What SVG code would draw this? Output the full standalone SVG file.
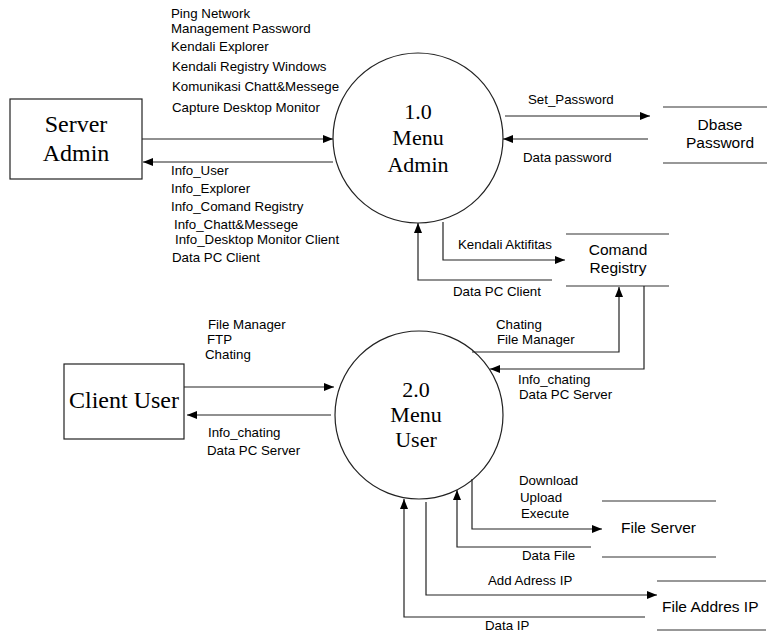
<svg xmlns="http://www.w3.org/2000/svg" width="767" height="633" viewBox="0 0 767 633">
<style>
.ln{fill:none;stroke:#222;stroke-width:1.2}
.st{fill:none;stroke:#333;stroke-width:1.2}
.lb{font-family:"Liberation Sans",Arial,sans-serif;font-size:13.3px;fill:#000}
.sl{font-family:"Liberation Sans",Arial,sans-serif;font-size:15.5px;fill:#000}
.tm{font-family:"Liberation Serif","Times New Roman",serif;font-size:24px;fill:#000}
.pr{font-family:"Liberation Serif","Times New Roman",serif;font-size:22px;fill:#000}
.bx{fill:#fff;stroke:#222;stroke-width:1.2}
</style>
<defs>
<marker id="ah" viewBox="0 0 10 8" refX="10" refY="4" markerWidth="10" markerHeight="8" markerUnits="userSpaceOnUse" orient="auto">
<path d="M0,0 L10,4 L0,8 Z" fill="#000"/>
</marker>
</defs>
<rect width="767" height="633" fill="#fff"/>

<g id="server-admin">
<rect class="bx" x="10" y="99" width="132" height="80"/>
<text class="tm" x="76" y="132" text-anchor="middle">Server</text>
<text class="tm" x="76" y="161" text-anchor="middle">Admin</text>
</g>

<g id="client-user">
<rect class="bx" x="64" y="364" width="120" height="75"/>
<text class="tm" x="124" y="408" text-anchor="middle">Client User</text>
</g>

<g id="menu-admin">
<circle class="bx" cx="418" cy="138" r="85"/>
<text class="pr" x="418" y="119" text-anchor="middle">1.0</text>
<text class="pr" x="418" y="145" text-anchor="middle">Menu</text>
<text class="pr" x="418" y="172" text-anchor="middle">Admin</text>
</g>

<g id="menu-user">
<circle class="bx" cx="419" cy="415" r="84"/>
<text class="pr" x="416" y="397" text-anchor="middle">2.0</text>
<text class="pr" x="416" y="422" text-anchor="middle">Menu</text>
<text class="pr" x="416" y="447" text-anchor="middle">User</text>
</g>

<g id="dbase-password">
<line class="st" x1="663" y1="107" x2="767" y2="107"/>
<line class="st" x1="663" y1="163" x2="767" y2="163"/>
<text class="sl" x="720" y="130" text-anchor="middle">Dbase</text>
<text class="sl" x="720" y="148" text-anchor="middle">Password</text>
</g>

<g id="comand-registry">
<line class="st" x1="566" y1="234" x2="669" y2="234"/>
<line class="st" x1="566" y1="286" x2="669" y2="286"/>
<text class="sl" x="618" y="255" text-anchor="middle">Comand</text>
<text class="sl" x="618" y="273" text-anchor="middle">Registry</text>
</g>

<g id="file-server">
<line class="st" x1="602" y1="501" x2="716" y2="501"/>
<line class="st" x1="602" y1="557" x2="716" y2="557"/>
<text class="sl" x="621" y="533">File Server</text>
</g>

<g id="file-addres-ip">
<line class="st" x1="657" y1="581" x2="766" y2="581"/>
<line class="st" x1="657" y1="630" x2="766" y2="630"/>
<text class="sl" x="662" y="612">File Addres IP</text>
</g>

<g id="connectors">
<line class="ln" x1="142" y1="139" x2="333" y2="139" marker-end="url(#ah)"/>
<line class="ln" x1="333" y1="162" x2="143" y2="162" marker-end="url(#ah)"/>
<line class="ln" x1="505" y1="116" x2="650" y2="116" marker-end="url(#ah)"/>
<line class="ln" x1="648" y1="139" x2="503" y2="139" marker-end="url(#ah)"/>
<polyline class="ln" points="443,222 443,260 565,260" marker-end="url(#ah)"/>
<polyline class="ln" points="552,280 418,280 418,223" marker-end="url(#ah)"/>
<polyline class="ln" points="472,352 619,352 619,287" marker-end="url(#ah)"/>
<polyline class="ln" points="644,286 644,369 490,369" marker-end="url(#ah)"/>
<line class="ln" x1="184" y1="387" x2="334" y2="387" marker-end="url(#ah)"/>
<line class="ln" x1="331" y1="415" x2="187" y2="415" marker-end="url(#ah)"/>
<polyline class="ln" points="472,479 472,529 602,529" marker-end="url(#ah)"/>
<polyline class="ln" points="591,547 457,547 457,490" marker-end="url(#ah)"/>
<polyline class="ln" points="426,502 426,595 657,595" marker-end="url(#ah)"/>
<polyline class="ln" points="645,617 404,617 404,499" marker-end="url(#ah)"/>
</g>

<g id="labels">
<text class="lb" x="171" y="18">Ping Network</text>
<text class="lb" x="171" y="33">Management Password</text>
<text class="lb" x="171" y="51">Kendali Explorer</text>
<text class="lb" x="172" y="71">Kendali Registry Windows</text>
<text class="lb" x="172" y="91">Komunikasi Chatt&amp;Messege</text>
<text class="lb" x="172" y="112">Capture Desktop Monitor</text>
<text class="lb" x="171" y="175">Info_User</text>
<text class="lb" x="171" y="193">Info_Explorer</text>
<text class="lb" x="171" y="211">Info_Comand Registry</text>
<text class="lb" x="174" y="229">Info_Chatt&amp;Messege</text>
<text class="lb" x="175" y="244">Info_Desktop Monitor Client</text>
<text class="lb" x="172" y="262">Data PC Client</text>
<text class="lb" x="528" y="104">Set_Password</text>
<text class="lb" x="523" y="162">Data password</text>
<text class="lb" x="458" y="249">Kendali Aktifitas</text>
<text class="lb" x="453" y="296">Data PC Client</text>
<text class="lb" x="496" y="329">Chating</text>
<text class="lb" x="497" y="344">File Manager</text>
<text class="lb" x="518" y="384">Info_chating</text>
<text class="lb" x="519" y="399">Data PC Server</text>
<text class="lb" x="208" y="329">File Manager</text>
<text class="lb" x="207" y="344">FTP</text>
<text class="lb" x="205" y="359">Chating</text>
<text class="lb" x="208" y="437">Info_chating</text>
<text class="lb" x="207" y="455">Data PC Server</text>
<text class="lb" x="519" y="485">Download</text>
<text class="lb" x="520" y="502">Upload</text>
<text class="lb" x="521" y="518">Execute</text>
<text class="lb" x="522" y="560">Data File</text>
<text class="lb" x="488" y="585">Add Adress IP</text>
<text class="lb" x="485" y="630">Data IP</text>
</g>
</svg>
